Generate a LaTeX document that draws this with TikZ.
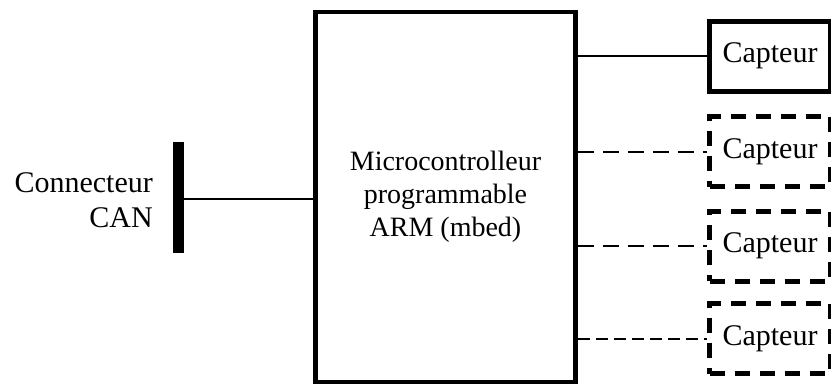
\documentclass[tikz,border=0pt]{standalone}
\usepackage{fontspec}
\setmainfont{Liberation Serif}
\begin{document}
\begin{tikzpicture}[x=1pt,y=-1pt,
  mainbox/.style={draw, line width=4.5pt, minimum width=260pt, minimum height=370pt,
    inner sep=0pt, align=center, font=\fontsize{28pt}{33pt}\selectfont},
  sensor/.style={draw, line width=5pt, minimum width=120.5pt, minimum height=70pt,
    inner sep=0pt, font=\fontsize{30pt}{35pt}\selectfont},
  optsensor/.style={sensor, dash pattern=on 15pt off 10pt},
  link/.style={line width=2pt},
  optlink/.style={link, dash pattern=on 16pt off 9pt},
  canbar/.style={fill=black, inner sep=0pt, minimum width=11pt, minimum height=111pt},
  label/.style={inner sep=0pt, align=right, font=\fontsize{30pt}{35pt}\selectfont}]
  \useasboundingbox (0,0) rectangle (831,386);

  % microcontroller
  \node[mainbox] (mcu) at (445.5,197) {Microcontrolleur\\programmable\\ARM (mbed)};

  % CAN connector
  \node[canbar] (can) at (178.5,197.5) {};
  \node[label, anchor=north east] (canlabel) at (153,172) {Connecteur\\CAN};
  \draw[link] (can.east |- 0,198.5) coordinate (canout) -- (mcu.west |- canout);

  % sensors
  \node[sensor]    (s1) at (770,56)    {Capteur};
  \node[optsensor] (s2) at (770,151.5) {Capteur};
  \node[optsensor] (s3) at (770,246)   {Capteur};
  \node[optsensor] (s4) at (770,338.5) {Capteur};

  \draw[link]    (mcu.east |- s1.west) -- (s1.west);
  \draw[optlink] (mcu.east |- s2.west) -- (s2.west);
  \draw[optlink] (mcu.east |- s3.west) -- (s3.west);
  \draw[optlink, dash pattern=on 12pt off 6pt] (mcu.east |- s4.west) -- (s4.west);
\end{tikzpicture}
\end{document}
